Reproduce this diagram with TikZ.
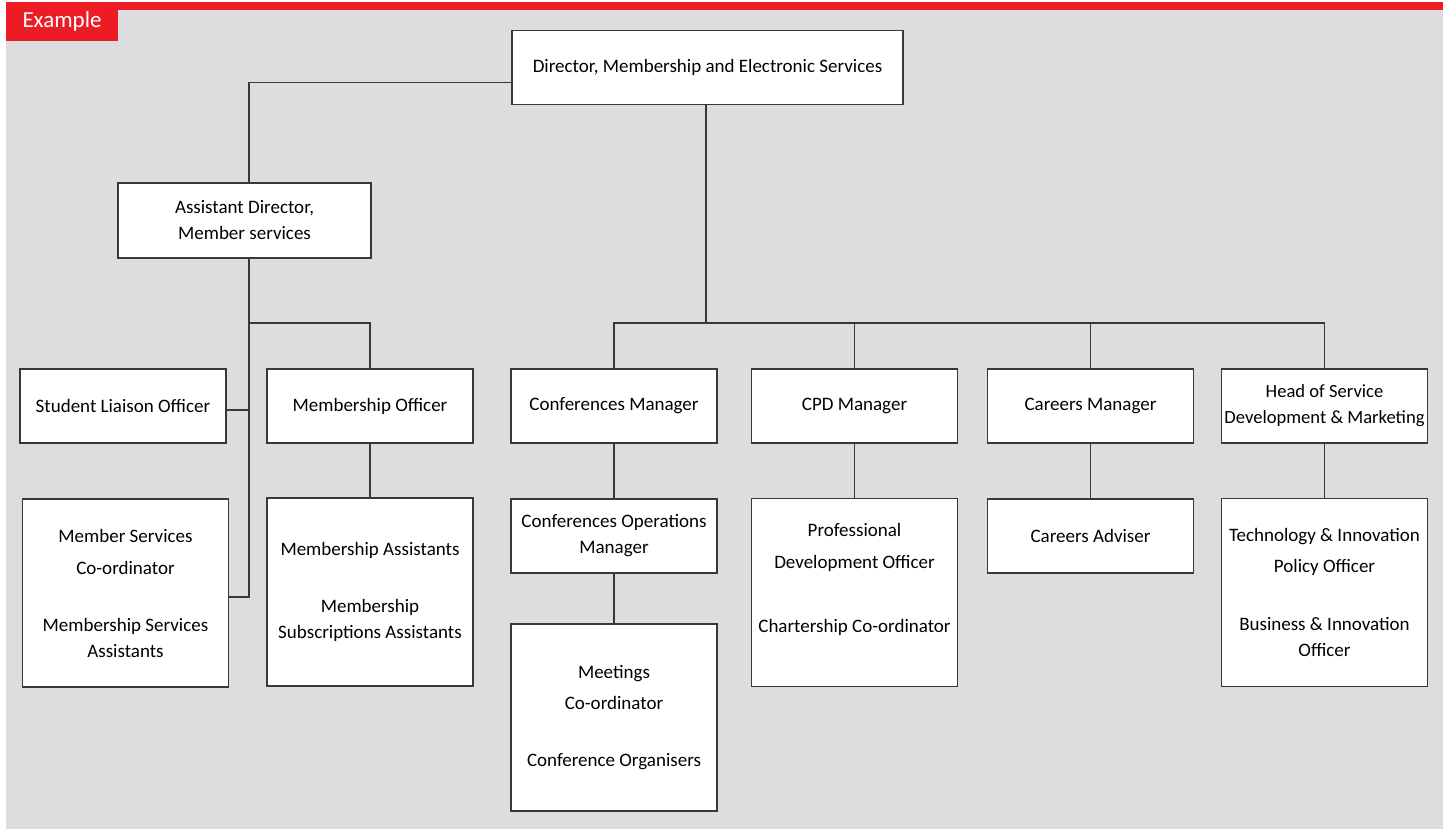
\documentclass[tikz,border=0pt]{standalone}
\usepackage{fontspec}
\setmainfont{Carlito}
\usetikzlibrary{positioning}

\definecolor{brandred}{HTML}{ED1C24}
\definecolor{panelgray}{HTML}{DCDDDF}
\definecolor{edgegray}{HTML}{383838}

\begin{document}
\begin{tikzpicture}[
  x=0.5pt,
  y=-0.5pt,
  box/.style={
    draw=edgegray,
    fill=white,
    align=center,
    minimum width=103pt,
    minimum height=37pt,
    inner sep=2pt,
    line width=0.6pt,
    font=\fontsize{9.5}{13}\selectfont
  },
  tallbox/.style={box, minimum height=94pt},
  tag/.style={fill=brandred, text=white, minimum width=56pt, minimum height=19.5pt,
    inner sep=0pt, font=\fontsize{11.5}{13}\selectfont},
  wire/.style={draw=edgegray, line width=0.6pt}
]
\useasboundingbox (0,0) rectangle (1451,829);
\fill[panelgray] (6,10) rectangle (1443,829);
\fill[brandred] (6,2) rectangle (1443,10);
\node[tag] (extag) at (62,21.5) {Example};

\node[box, minimum width=195.5pt] (director) at (707.5,67.5) {Director, Membership and Electronic Services};
\node[box, minimum width=126.5pt, minimum height=37.5pt] (asstdir) at (244.5,220.5) {Assistant Director,\\Member services};

\node[box] (liaison)    at (123,406)    {Student Liaison Officer};
\node[box] (memofficer) at (370,406)    {Membership Officer};
\node[box] (confmgr)    at (614,406)    {Conferences Manager};
\node[box] (cpdmgr)     at (854.5,406)  {CPD Manager};
\node[box] (careersmgr) at (1090.5,406) {Careers Manager};
\node[box, inner xsep=0pt, font=\fontsize{9.3}{13}\selectfont] (headsdm) at (1324.5,406) {Head of Service\\Development \& Marketing};

\node[tallbox] (memserv)   at (125.5,593) {Member Services\\[3pt]Co-ordinator\\[15.5pt]Membership Services\\Assistants};
\node[tallbox] (memassist) at (370,592)   {Membership Assistants\\[15.5pt]Membership\\Subscriptions Assistants};
\node[box] (confops)       at (614,536)   {Conferences Operations\\Manager};
\node[tallbox, minimum height=93.5pt] (meetings) at (614,717.5) {Meetings\\[2.5pt]Co-ordinator\\[15.5pt]Conference Organisers};
\node[tallbox] (profdev)   at (854.5,592.5)  {Professional\\[3pt]Development Officer\\[19pt]Chartership Co-ordinator\\[1.5pt]\mbox{}};
\node[box] (careersadv)    at (1090.5,536)   {Careers Adviser};
\node[tallbox] (techinnov) at (1324.5,592.5) {Technology \& Innovation\\[2.5pt]Policy Officer\\[16pt]Business \& Innovation\\Officer};

\coordinate (bus)   at (706,323);
\coordinate (mbus)  at (249,323);
\coordinate (spine) at (249,597);

\draw[wire] ([yshift=-7.5pt]director.west) -| ([xshift=2.25pt]asstdir.north);
\draw[wire] (director.south -| bus) -- (bus);
\draw[wire] (confmgr.north) |- (bus) -| (headsdm.north);
\draw[wire] (cpdmgr.north) -- (cpdmgr.north |- bus);
\draw[wire] (careersmgr.north) -- (careersmgr.north |- bus);

\draw[wire] ([xshift=2.25pt]asstdir.south) -- (spine) -- (memserv.east |- spine);
\draw[wire] (mbus) -| (memofficer.north);
\draw[wire] ([yshift=-2pt]liaison.east) -- ([yshift=-2pt]liaison.east -| spine);

\draw[wire] (memofficer) -- (memassist);
\draw[wire] (confmgr) -- (confops);
\draw[wire] (confops) -- (meetings);
\draw[wire] (cpdmgr) -- (profdev);
\draw[wire] (careersmgr) -- (careersadv);
\draw[wire] (headsdm) -- (techinnov);
\end{tikzpicture}
\end{document}
